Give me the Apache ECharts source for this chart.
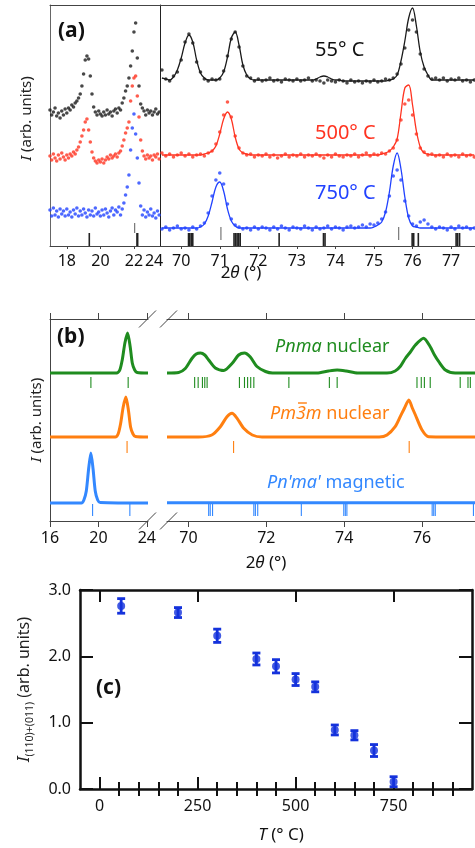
<!DOCTYPE html>
<html>
<head>
<meta charset="utf-8">
<script src="https://cdn.jsdelivr.net/npm/echarts@6/dist/echarts.min.js"></script>
<style>
  html, body { margin: 0; padding: 0; background: #fff; }
  #chart { width: 475px; height: 848px; }
</style>
</head>
<body>
<div id="chart"></div>
<script>
// ---------- (a) measured patterns, offset per temperature ----------
const thetaLowA = [
  17.0, 17.1, 17.2, 17.3, 17.4, 17.5, 17.6, 17.7, 17.8, 17.9,
  18.0, 18.1, 18.2, 18.3, 18.4, 18.5, 18.6, 18.7, 18.8, 18.9,
  19.0, 19.1, 19.2, 19.3, 19.4, 19.5, 19.6, 19.7, 19.8, 19.9,
  20.0, 20.1, 20.2, 20.3, 20.4, 20.5, 20.6, 20.7, 20.8, 20.9,
  21.0, 21.1, 21.2, 21.3, 21.4, 21.5, 21.6, 21.7, 21.8, 21.9,
  22.0, 22.1, 22.2, 22.3, 22.4, 22.5, 22.6, 22.7, 22.8, 22.9,
  23.0, 23.1, 23.2, 23.3, 23.4, 23.5, 23.6
];
const obs55Low = [
  136, 131, 134, 138, 130, 133, 128, 135, 131, 137,
  133, 138, 136, 141, 139, 143, 145, 148, 152, 160,
  172, 186, 190, 187, 170, 152, 139, 134, 131, 135,
  132, 130, 134, 131, 136, 132, 134, 130, 135, 137,
  133, 138, 136, 143, 148, 155, 160, 168, 180, 195,
  214, 223, 188, 160, 142, 138, 135, 131, 136, 133,
  135, 131, 134, 137, 132, 134, 130
];
const obs500Low = [
  90, 86, 92, 88, 85, 91, 87, 93, 89, 86,
  91, 88, 92, 90, 94, 92, 96, 99, 104, 110,
  116, 124, 127, 116, 104, 94, 88, 85, 83, 86,
  84, 87, 83, 86, 89, 87, 91, 88, 90, 92,
  89, 93, 95, 100, 106, 113, 118, 124, 145, 160,
  168, 170, 150, 129, 106, 95, 90, 87, 91, 88,
  90, 86, 91, 89, 92, 87, 90
];
const obs750Low = [
  36, 30, 38, 31, 35, 29, 37, 32, 35, 30,
  37, 31, 34, 29, 36, 32, 38, 30, 35, 31,
  37, 33, 29, 36, 31, 35, 30, 38, 32, 34,
  30, 36, 31, 37, 33, 29, 35, 38, 31, 36,
  34, 39, 31, 37, 43, 51, 59, 71, 96, 118,
  132, 112, 88, 63, 40, 31, 36, 29, 34, 31,
  37, 30, 33, 28, 35, 31, 34
];

const thetaHighA = [
  69.5, 69.6, 69.7, 69.8, 69.9,
  70.0, 70.1, 70.2, 70.3, 70.4, 70.5, 70.6, 70.7, 70.8, 70.9,
  71.0, 71.1, 71.2, 71.3, 71.4, 71.5, 71.6, 71.7, 71.8, 71.9,
  72.0, 72.1, 72.2, 72.3, 72.4, 72.5, 72.6, 72.7, 72.8, 72.9,
  73.0, 73.1, 73.2, 73.3, 73.4, 73.5, 73.6, 73.7, 73.8, 73.9,
  74.0, 74.1, 74.2, 74.3, 74.4, 74.5, 74.6, 74.7, 74.8, 74.9,
  75.0, 75.1, 75.2, 75.3, 75.4, 75.5, 75.6, 75.7, 75.8, 75.9,
  76.0, 76.1, 76.2, 76.3, 76.4, 76.5, 76.6, 76.7, 76.8, 76.9,
  77.0, 77.1, 77.2, 77.3, 77.4, 77.5, 77.6
];
const obs55High = [
  176, 167, 165, 170, 174,
  186, 204, 212, 203, 184, 174, 167, 165, 167, 166,
  167, 175, 190, 207, 214, 199, 180, 170, 168, 165,
  167, 165, 166, 168, 165, 166, 164, 167, 166, 165,
  167, 165, 166, 168, 165, 166, 165, 163, 166, 165,
  164, 166, 165, 163, 166, 164, 165, 163, 165, 164,
  166, 164, 165, 167, 166, 168, 172, 182, 198, 216,
  226, 214, 192, 177, 170, 167, 168, 166, 168, 165,
  167, 166, 168, 165, 166, 164, 166
];
const fit55High = [
  168, 167, 166, 169, 176,
  188, 203, 211, 204, 186, 173, 168, 166, 166, 166,
  168, 174, 189, 208, 214, 201, 181, 171, 167, 166,
  166, 166, 166, 166, 166, 166, 166, 166, 166, 166,
  166, 166, 166, 166, 166, 167, 169, 170, 169, 167,
  166, 166, 165, 165, 165, 165, 165, 165, 165, 165,
  165, 165, 165, 165, 166, 167, 171, 185, 205, 228,
  238, 220, 194, 179, 171, 166, 166, 166, 166, 166,
  166, 166, 166, 166, 166, 166, 166
];
const obs500High = [
  93, 90, 92, 89, 91,
  93, 90, 92, 89, 91, 92, 90, 93, 95, 102,
  114, 131, 144, 129, 110, 98, 93, 91, 92, 89,
  91, 90, 92, 89, 91, 88, 90, 92, 89, 91,
  90, 92, 89, 91, 90, 92, 90, 88, 91, 89,
  92, 90, 89, 91, 90, 92, 89, 91, 93, 90,
  92, 91, 93, 92, 95, 98, 106, 126, 142, 146,
  131, 112, 98, 94, 91, 92, 90, 91, 89, 92,
  90, 91, 89, 92, 90, 91, 89
];
const fit500High = [
  91, 91, 91, 91, 91,
  91, 91, 91, 91, 91, 91, 92, 93, 95, 100,
  112, 127, 134, 127, 109, 97, 93, 92, 91, 91,
  91, 91, 91, 91, 91, 91, 91, 91, 91, 91,
  91, 91, 91, 91, 91, 91, 91, 91, 91, 91,
  91, 91, 91, 91, 91, 91, 91, 91, 91, 91,
  91, 91, 92, 93, 95, 99, 107, 133, 158, 161,
  141, 115, 99, 93, 92, 91, 91, 91, 91, 91,
  91, 91, 91, 91, 91, 91, 91
];
const obs750High = [
  17, 19, 16, 18, 20,
  17, 18, 16, 19, 17, 20, 23, 33, 50, 66,
  73, 62, 42, 27, 21, 19, 17, 18, 16, 19,
  17, 19, 18, 16, 19, 17, 20, 18, 16, 19,
  18, 17, 20, 18, 16, 19, 17, 18, 20, 17,
  19, 18, 16, 19, 20, 18, 19, 21, 19, 22,
  21, 23, 27, 34, 50, 70, 76, 66, 45, 30,
  22, 20, 24, 26, 22, 19, 17, 19, 18, 16,
  19, 17, 20, 18, 19, 17, 18
];
const fit750High = [
  18, 18, 18, 18, 18,
  18, 18, 18, 18, 18, 19, 22, 30, 44, 59,
  64, 55, 37, 25, 20, 18, 18, 18, 18, 18,
  18, 18, 18, 18, 18, 18, 18, 18, 18, 18,
  18, 18, 18, 18, 18, 18, 18, 18, 18, 18,
  18, 18, 18, 18, 18, 18, 18, 18, 18, 18,
  19, 21, 24, 34, 54, 80, 93, 77, 49, 28,
  20, 19, 18, 18, 18, 18, 18, 18, 18, 18,
  18, 18, 18, 18, 18, 18, 18
];
// reflection positions under panel (a)
const orthoTicksA = [19.34, 22.18, 22.22, 70.19, 70.22, 70.26, 70.3, 71.37, 71.41, 71.45, 71.49, 71.53,
  72.54, 73.69, 73.73, 75.99, 76.03, 76.15, 77.13, 77.17, 77.22];
const cubicTicksA = [22.04, 71.03, 75.64];

// ---------- (b) calculated patterns ----------
const pnmaLowB = [[16, 148], [21.5, 148], [21.77, 151], [21.97, 161], [22.19, 178], [22.41, 188], [22.63, 174],
  [22.8, 158], [23.0, 151], [23.2, 148.5], [24.1, 148]];
const pnmaHighB = [[69.45, 148], [69.75, 148.5], [69.92, 152.5], [70.09, 162.5], [70.2, 167], [70.31, 168],
  [70.42, 166], [70.52, 161], [70.69, 153], [70.91, 150.5], [71.12, 157.5], [71.29, 166], [71.44, 168],
  [71.59, 164], [71.76, 154.5], [71.98, 149.5], [72.16, 148], [73.3, 148], [73.6, 150], [73.82, 151],
  [74.05, 150], [74.35, 148], [75.1, 148], [75.31, 150], [75.45, 155], [75.57, 162.5], [75.7, 169],
  [75.83, 176], [76.04, 182.7], [76.21, 174.3], [76.32, 166], [76.43, 159.3], [76.6, 151], [76.85, 148],
  [77.4, 148]];
const pm3mLowB = [[16, 84], [21.4, 84], [21.63, 87], [21.83, 97], [22.05, 114], [22.27, 124], [22.49, 110],
  [22.66, 94], [22.86, 87], [23.06, 84.5], [24.1, 84]];
const pm3mHighB = [[69.45, 84], [70.26, 84], [70.6, 86], [70.82, 94.3], [70.99, 104.3], [71.12, 107.7],
  [71.25, 102.7], [71.42, 92.7], [71.64, 86], [71.89, 84], [74.9, 84], [75.1, 86], [75.31, 94.3],
  [75.44, 104.3], [75.55, 113], [75.66, 121], [75.75, 113], [75.83, 106], [76.0, 91], [76.17, 84.3],
  [77.4, 84]];
const magLowB = [[16, 18], [18.6, 18], [18.8, 21], [19.0, 30], [19.2, 53], [19.38, 68], [19.56, 52],
  [19.74, 30], [19.94, 21], [20.15, 18.5], [24.1, 18]];
const magHighB = [[69.45, 18.3], [77.4, 18.3]];
const pnmaTicksB = [19.38, 22.46, 70.16, 70.25, 70.36, 70.42, 70.48, 71.31, 71.44, 71.52, 71.6, 71.68,
  72.58, 73.62, 73.82, 75.87, 75.98, 76.06, 76.21, 76.98, 77.18, 77.24];
const pm3mTicksB = [22.37, 71.16, 75.67];
const magTicksB = [19.52, 22.6, 70.52, 70.56, 70.62, 71.68, 71.72, 71.78, 72.9, 73.99, 74.03, 74.07,
  76.26, 76.3, 76.34, 77.32];

// ---------- (c) integrated intensity vs temperature ----------
const tempC = [55, 200, 300, 400, 450, 500, 550, 600, 650, 700, 750];
const intensityC = [2.76, 2.66, 2.31, 1.96, 1.85, 1.65, 1.54, 0.89, 0.81, 0.58, 0.11];
const errorC = [0.11, 0.075, 0.1, 0.09, 0.1, 0.09, 0.075, 0.075, 0.07, 0.09, 0.075];
const majorTicksC = [0, 250, 500, 750];
const minorTicksC = [50, 100, 150, 200, 300, 350, 400, 450, 550, 600, 650, 700, 800, 850, 900];

const BLACK = '#1a1a1a', RED = '#ff3320', BLUE = '#2142ff';
const GREEN = '#1f8c1f', ORANGE = '#ff7f10', SKY = '#3388ff', DOTC = '#1432dc';
const FONT = 'Noto Sans';

const zip = (xs, ys) => xs.map((x, i) => [x, ys[i]]);
const low = (arr) => arr.filter(t => t < 40);
const high = (arr) => arr.filter(t => t > 40);

function dots(xi, yi, data, color) {
  return { type: 'scatter', xAxisIndex: xi, yAxisIndex: yi, data, symbol: 'circle', symbolSize: 3.6,
    itemStyle: { color }, silent: true, z: 3 };
}
function curve(xi, yi, data, color, width, smooth) {
  return { type: 'line', xAxisIndex: xi, yAxisIndex: yi, data, showSymbol: false, smooth,
    lineStyle: { color, width }, silent: true, z: 4 };
}
function ticks(xi, yi, positions, lo, hi, color, width) {
  return {
    type: 'custom', xAxisIndex: xi, yAxisIndex: yi, silent: true, z: 2,
    data: positions.map(t => [t, lo, hi]),
    renderItem: (p, api) => {
      const a = api.coord([api.value(0), api.value(1)]);
      const b = api.coord([api.value(0), api.value(2)]);
      return { type: 'line', shape: { x1: a[0], y1: a[1], x2: b[0], y2: b[1] },
        style: { stroke: color, lineWidth: width } };
    }
  };
}

const hide = { show: false };
function frameX(grid, pos, min, max, opts) {
  return Object.assign({
    type: 'value', gridIndex: grid, position: pos, min, max,
    axisLine: { show: true, onZero: false, lineStyle: { color: '#444', width: 1 } },
    axisTick: hide, axisLabel: hide, splitLine: hide
  }, opts || {});
}
const labelA = { fontSize: 16, color: '#111', margin: 7, fontFamily: FONT };
const italic = (size) => ({ fontStyle: 'italic', fontSize: size, fontFamily: FONT, color: '#222' });

// bar over the "3" of Pm-3m: measure the italic text so the bar sits on the digit
const mctx = document.createElement('canvas').getContext('2d');
mctx.font = 'italic 18px "Noto Sans"';
const pmWidth = mctx.measureText('Pm').width;
const threeWidth = mctx.measureText('3').width;
const PM3M_X = 270, PM3M_Y = 414;

const chart = echarts.init(document.getElementById('chart'), null, { renderer: 'canvas' });
chart.setOption({
  animation: false,
  backgroundColor: '#fff',
  textStyle: { fontFamily: FONT },
  grid: [
    { left: 50, top: 5, width: 110, height: 241, outerBoundsMode: 'none' },
    { left: 160, top: 5, width: 315, height: 241, outerBoundsMode: 'none' },
    { left: 50, top: 319, width: 98, height: 202, outerBoundsMode: 'none' },
    { left: 167, top: 319, width: 308, height: 202, outerBoundsMode: 'none' },
    { left: 80, top: 590, width: 392, height: 199, outerBoundsMode: 'none' }
  ],
  xAxis: [
    // 0,1: panel (a) bottom
    frameX(0, 'bottom', 17, 23.55, {
      axisTick: { show: true, customValues: [18, 20, 22], length: 3, lineStyle: { color: '#444' } },
      axisLabel: Object.assign({ customValues: [18, 20, 22, 23.2], formatter: v => (v > 23 ? '24' : String(v)) }, labelA)
    }),
    frameX(1, 'bottom', 69.45, 77.62, {
      axisTick: { show: true, customValues: [70, 71, 72, 73, 74, 75, 76, 77], length: 3, lineStyle: { color: '#444' } },
      axisLabel: Object.assign({ customValues: [70, 71, 72, 73, 74, 75, 76, 77] }, labelA)
    }),
    // 2,3: panel (a) top border
    frameX(0, 'top', 17, 23.55),
    frameX(1, 'top', 69.45, 77.62),
    // 4,5: panel (b) bottom
    frameX(2, 'bottom', 16, 24.1, {
      axisTick: { show: true, customValues: [16, 20, 24], length: 6, lineStyle: { color: '#444' } },
      axisLabel: Object.assign({ customValues: [16, 20, 24] }, labelA, { margin: 9 })
    }),
    frameX(3, 'bottom', 69.45, 77.36, {
      axisTick: { show: true, customValues: [70, 72, 74, 76], length: 6, lineStyle: { color: '#444' } },
      axisLabel: Object.assign({ customValues: [70, 72, 74, 76] }, labelA, { margin: 9 })
    }),
    // 6,7: panel (b) top
    frameX(2, 'top', 16, 24.1, {
      axisTick: { show: true, customValues: [16, 20, 24], length: 6, lineStyle: { color: '#444' } }
    }),
    frameX(3, 'top', 69.45, 77.36, {
      axisTick: { show: true, customValues: [70, 72, 74, 76], length: 6, lineStyle: { color: '#444' } }
    }),
    // 8-11: panel (c) bottom/top, major and minor ticks
    frameX(4, 'bottom', -50, 950, {
      axisLine: { show: true, onZero: false, lineStyle: { color: '#111', width: 2.5 } },
      axisTick: { show: true, inside: true, customValues: majorTicksC, length: 12, lineStyle: { color: '#111', width: 2 } },
      axisLabel: { customValues: majorTicksC, fontSize: 16, color: '#111', margin: 9, fontFamily: FONT }
    }),
    frameX(4, 'bottom', -50, 950, {
      axisLine: hide,
      axisTick: { show: true, inside: true, customValues: minorTicksC, length: 7, lineStyle: { color: '#111', width: 2 } }
    }),
    frameX(4, 'top', -50, 950, {
      axisLine: { show: true, onZero: false, lineStyle: { color: '#111', width: 2.5 } },
      axisTick: { show: true, inside: true, customValues: majorTicksC, length: 12, lineStyle: { color: '#111', width: 2 } }
    }),
    frameX(4, 'top', -50, 950, {
      axisLine: hide,
      axisTick: { show: true, inside: true, customValues: minorTicksC, length: 7, lineStyle: { color: '#111', width: 2 } }
    })
  ],
  yAxis: [
    {
      type: 'value', gridIndex: 0, min: 0, max: 241,
      axisLine: { show: true, lineStyle: { color: '#666' } }, axisTick: hide, axisLabel: hide, splitLine: hide,
      name: '{it|I} (arb. units)', nameLocation: 'middle', nameRotate: 90, nameGap: 16,
      nameTextStyle: { fontSize: 15, color: '#222', fontFamily: FONT, padding: [0, 0, 0, 14], rich: { it: italic(15) } }
    },
    {
      type: 'value', gridIndex: 1, min: 0, max: 241,
      axisLine: { show: true, lineStyle: { color: '#222' } }, axisTick: hide, axisLabel: hide, splitLine: hide
    },
    {
      type: 'value', gridIndex: 2, min: 0, max: 202,
      axisLine: { show: true, lineStyle: { color: '#444' } }, axisTick: hide, axisLabel: hide, splitLine: hide,
      name: '{it|I} (arb. units)', nameLocation: 'middle', nameRotate: 90, nameGap: 6,
      nameTextStyle: { fontSize: 15, color: '#222', fontFamily: FONT, rich: { it: italic(15) } }
    },
    {
      type: 'value', gridIndex: 3, min: 0, max: 202,
      axisLine: hide, axisTick: hide, axisLabel: hide, splitLine: hide
    },
    {
      type: 'value', gridIndex: 4, min: 0, max: 3, interval: 1, position: 'left',
      axisLine: { show: true, onZero: false, lineStyle: { color: '#111', width: 2.5 } },
      axisTick: { show: true, inside: true, length: 13, lineStyle: { color: '#111', width: 2 } },
      axisLabel: { fontSize: 16, color: '#111', margin: 9, fontFamily: FONT, formatter: v => v.toFixed(1) },
      splitLine: hide,
      name: '{it|I}{sub|(110)+(011)} (arb. units)', nameLocation: 'middle', nameRotate: 90, nameGap: 44,
      nameTextStyle: {
        fontSize: 16, color: '#222', fontFamily: FONT, lineHeight: 24,
        rich: {
          it: Object.assign(italic(17), { lineHeight: 24 }),
          sub: { fontSize: 10.5, color: '#222', fontFamily: FONT, lineHeight: 10, verticalAlign: 'bottom' }
        }
      }
    },
    {
      type: 'value', gridIndex: 4, min: 0, max: 3, interval: 1, position: 'right',
      axisLine: { show: true, onZero: false, lineStyle: { color: '#111', width: 2.5 } },
      axisTick: { show: true, inside: true, length: 13, lineStyle: { color: '#111', width: 2 } },
      axisLabel: hide, splitLine: hide
    }
  ],
  series: [
    // (a) low angle
    dots(0, 0, zip(thetaLowA, obs55Low), BLACK),
    dots(0, 0, zip(thetaLowA, obs500Low), RED),
    dots(0, 0, zip(thetaLowA, obs750Low), BLUE),
    ticks(0, 0, low(orthoTicksA), 0, 13, '#222', 1.6),
    ticks(0, 0, low(cubicTicksA), 13, 23, '#777', 1.2),
    // (a) high angle
    curve(1, 1, zip(thetaHighA, fit55High), BLACK, 1.3, 0.35),
    curve(1, 1, zip(thetaHighA, fit500High), RED, 1.3, 0.35),
    curve(1, 1, zip(thetaHighA, fit750High), BLUE, 1.3, 0.35),
    dots(1, 1, zip(thetaHighA, obs55High), BLACK),
    dots(1, 1, zip(thetaHighA, obs500High), RED),
    dots(1, 1, zip(thetaHighA, obs750High), BLUE),
    ticks(1, 1, high(orthoTicksA), 0, 13, '#222', 1.6),
    ticks(1, 1, high(cubicTicksA), 6, 19, '#777', 1.2),
    // (b)
    curve(4, 2, pnmaLowB, GREEN, 3, 0.25),
    curve(4, 2, pm3mLowB, ORANGE, 3, 0.25),
    curve(4, 2, magLowB, SKY, 3, 0.25),
    curve(5, 3, pnmaHighB, GREEN, 3, 0.25),
    curve(5, 3, pm3mHighB, ORANGE, 3, 0.25),
    curve(5, 3, magHighB, SKY, 3, 0),
    ticks(4, 2, low(pnmaTicksB), 133, 144, GREEN, 1.1),
    ticks(4, 2, low(pm3mTicksB), 68, 80, ORANGE, 1.1),
    ticks(4, 2, low(magTicksB), 5, 17, SKY, 1.1),
    ticks(5, 3, high(pnmaTicksB), 133, 144, GREEN, 1.1),
    ticks(5, 3, high(pm3mTicksB), 68, 80, ORANGE, 1.1),
    ticks(5, 3, high(magTicksB), 5, 17, SKY, 1.1),
    // (c)
    {
      type: 'custom', xAxisIndex: 8, yAxisIndex: 4, silent: true, z: 3,
      data: tempC.map((t, i) => [t, intensityC[i], errorC[i]]),
      renderItem: (p, api) => {
        const x = api.value(0), y = api.value(1), e = api.value(2);
        const top = api.coord([x, y + e]), bot = api.coord([x, y - e]);
        const w = 4, st = { stroke: DOTC, lineWidth: 2.8 };
        return { type: 'group', children: [
          { type: 'line', shape: { x1: top[0], y1: top[1], x2: bot[0], y2: bot[1] }, style: st },
          { type: 'line', shape: { x1: top[0] - w, y1: top[1], x2: top[0] + w, y2: top[1] }, style: st },
          { type: 'line', shape: { x1: bot[0] - w, y1: bot[1], x2: bot[0] + w, y2: bot[1] }, style: st }
        ] };
      }
    },
    {
      type: 'scatter', xAxisIndex: 8, yAxisIndex: 4, data: zip(tempC, intensityC),
      symbol: 'circle', symbolSize: 8, itemStyle: { color: DOTC }, silent: true, z: 4
    }
  ],
  graphic: [
    { type: 'text', x: 58, y: 31, style: { text: '(a)', font: 'bold 21px "Noto Sans"', fill: '#111', align: 'left', verticalAlign: 'middle' } },
    { type: 'text', x: 57, y: 337, style: { text: '(b)', font: 'bold 21px "Noto Sans"', fill: '#111', align: 'left', verticalAlign: 'middle' } },
    { type: 'text', x: 96, y: 688, style: { text: '(c)', font: 'bold 21px "Noto Sans"', fill: '#111', align: 'left', verticalAlign: 'middle' } },
    { type: 'text', x: 315, y: 50, style: { text: '55° C', font: '20px "Noto Sans"', fill: '#111', align: 'left', verticalAlign: 'middle' } },
    { type: 'text', x: 315, y: 133, style: { text: '500° C', font: '20px "Noto Sans"', fill: RED, align: 'left', verticalAlign: 'middle' } },
    { type: 'text', x: 315, y: 193, style: { text: '750° C', font: '20px "Noto Sans"', fill: BLUE, align: 'left', verticalAlign: 'middle' } },
    { type: 'text', x: 275, y: 347, style: { text: '{i|Pnma} nuclear', font: '18px "Noto Sans"', fill: GREEN, align: 'left', verticalAlign: 'middle',
      rich: { i: { fontStyle: 'italic', fontSize: 18, fontFamily: FONT, fill: GREEN } } } },
    { type: 'text', x: PM3M_X, y: PM3M_Y, style: { text: '{i|Pm3m} nuclear', font: '18px "Noto Sans"', fill: ORANGE, align: 'left', verticalAlign: 'middle',
      rich: { i: { fontStyle: 'italic', fontSize: 18, fontFamily: FONT, fill: ORANGE } } } },
    { type: 'line', shape: { x1: PM3M_X + pmWidth + 2, y1: PM3M_Y - 11, x2: PM3M_X + pmWidth + threeWidth + 1, y2: PM3M_Y - 11 },
      style: { stroke: ORANGE, lineWidth: 1.4 } },
    { type: 'text', x: 267, y: 483, style: { text: "{i|Pn'ma'} magnetic", font: '18px "Noto Sans"', fill: SKY, align: 'left', verticalAlign: 'middle',
      rich: { i: { fontStyle: 'italic', fontSize: 18, fontFamily: FONT, fill: SKY } } } },
    { type: 'text', x: 241, y: 273, style: { text: '2{i|θ} (°)', font: '17px "Noto Sans"', fill: '#111', align: 'center', verticalAlign: 'middle',
      rich: { i: { fontStyle: 'italic', fontSize: 17, fontFamily: FONT } } } },
    { type: 'text', x: 266, y: 563, style: { text: '2{i|θ} (°)', font: '17px "Noto Sans"', fill: '#111', align: 'center', verticalAlign: 'middle',
      rich: { i: { fontStyle: 'italic', fontSize: 17, fontFamily: FONT } } } },
    { type: 'text', x: 281, y: 835, style: { text: '{i|T} (° C)', font: '17px "Noto Sans"', fill: '#111', align: 'center', verticalAlign: 'middle',
      rich: { i: { fontStyle: 'italic', fontSize: 17, fontFamily: FONT } } } },
    // axis break marks in (b)
    { type: 'line', shape: { x1: 139, y1: 327.5, x2: 156, y2: 310.5 }, style: { stroke: '#444', lineWidth: 1 } },
    { type: 'line', shape: { x1: 160, y1: 327.5, x2: 177, y2: 310.5 }, style: { stroke: '#444', lineWidth: 1 } },
    { type: 'line', shape: { x1: 139, y1: 529.5, x2: 156, y2: 512.5 }, style: { stroke: '#444', lineWidth: 1 } },
    { type: 'line', shape: { x1: 160, y1: 529.5, x2: 177, y2: 512.5 }, style: { stroke: '#444', lineWidth: 1 } }
  ]
});
</script>
</body>
</html>
